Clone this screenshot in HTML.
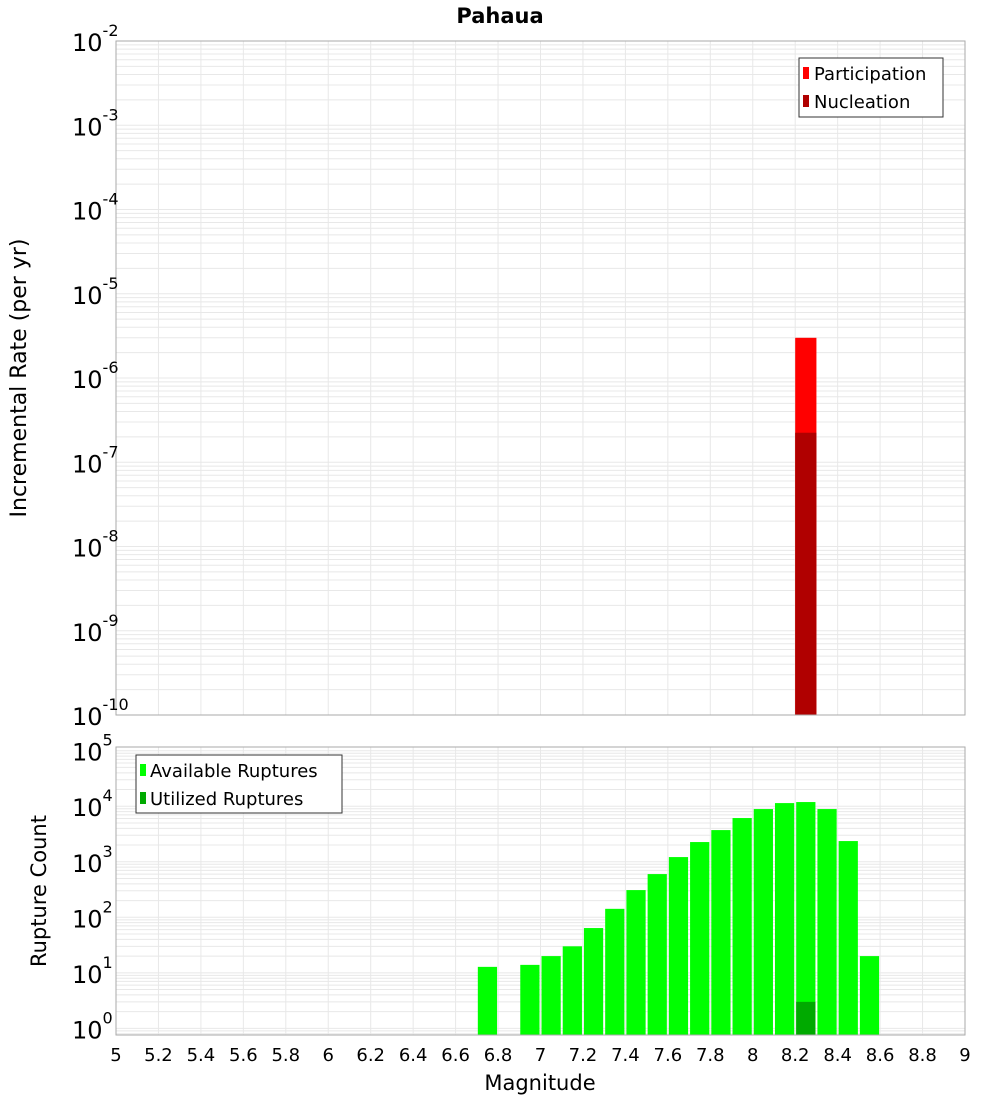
<!DOCTYPE html>
<html><head><meta charset="utf-8"><style>
body{margin:0;background:#fff;font-family:"DejaVu Sans","Liberation Sans",sans-serif}
svg{display:block}
</style></head><body>
<svg id="c" width="1000" height="1100" xmlns="http://www.w3.org/2000/svg" font-family="DejaVu Sans, Liberation Sans, sans-serif"></svg>
<script>
const magBins=[6.75,6.95,7.05,7.15,7.25,7.35,7.45,7.55,7.65,7.75,7.85,7.95,8.05,8.15,8.25,8.35,8.45,8.55];
const availableCounts=[12.8,13.9,20,30,64,142,309,600,1215,2265,3720,6130,8900,11400,11900,8900,2360,20];
const utilizedMags=[8.25];
const utilizedCounts=[3.0];
const rateMags=[8.25];
const participationRates=[3.0e-6];
const nucleationRates=[2.24e-7];
const xTicks=[5,5.2,5.4,5.6,5.8,6,6.2,6.4,6.6,6.8,7,7.2,7.4,7.6,7.8,8,8.2,8.4,8.6,8.8,9];
const topDecades=[-2,-3,-4,-5,-6,-7,-8,-9,-10];
const botDecades=[5,4,3,2,1,0];

const NS="http://www.w3.org/2000/svg";
const svg=document.getElementById('c');
function mk(t,a,p){const e=document.createElementNS(NS,t);for(const k in a)e.setAttribute(k,a[k]);(p||svg).appendChild(e);return e;}
const X0=116,X1=965;
const xs=m=>X0+(m-5)/(9-5)*(X1-X0);
const T0=41,T1=715;
const yTop=v=>T0+(-2-Math.log10(v))/8*(T1-T0);
const B0=747,B1=1035,BL0=5.067,BL1=-0.12;
const yBot=v=>{let l=Math.log10(v);return B0+(BL0-l)/(BL0-BL1)*(B1-B0);};

function grid(g,y0,y1,lmin,lmax,yf){
  for(let d=Math.floor(lmin);d<=Math.ceil(lmax);d++){
    for(let k=1;k<10;k++){const v=k*Math.pow(10,d);const l=Math.log10(v);if(l<lmin||l>lmax)continue;
      const y=yf(v);const gl=mk('line',{x1:X0,x2:X1,y1:y,y2:y,stroke:'#e8e8e8','stroke-width':1},g);
      
      }
  }
  xTicks.forEach(t=>{const x=xs(t);const vl=mk('line',{x1:x,x2:x,y1:y0,y2:y1,stroke:'#e8e8e8','stroke-width':1},g);
    
    });
}
mk('text',{x:500,y:23,'text-anchor':'middle','font-size':21,'font-weight':'bold',}).textContent='Pahaua';

const gt=mk('g',{});
grid(gt,T0,T1,-10,-2,yTop);
const bw=(X1-X0)/40;
rateMags.forEach((m,i)=>{
  const r1=mk('rect',{x:xs(m)-bw/2,y:yTop(participationRates[i]),width:bw,height:T1-yTop(participationRates[i]),fill:'#ff0000'},gt);
  
  
  const r2=mk('rect',{x:xs(m)-bw/2,y:yTop(nucleationRates[i]),width:bw,height:T1-yTop(nucleationRates[i]),fill:'#b00000'},gt);
  
  
});
mk('rect',{x:X0,y:T0,width:X1-X0,height:T1-T0,fill:'none',stroke:'#aaa','stroke-width':1,},gt);
topDecades.forEach(d=>{const y=yTop(Math.pow(10,d));
  const t=mk('text',{x:72,y:y+10,'font-size':24},gt);
  
  
  t.innerHTML='10<tspan dy="-15" font-size="16">'+d+'</tspan>';});
mk('text',{x:0,y:0,transform:'translate(26,378) rotate(-90)','text-anchor':'middle','font-size':22,},gt).textContent='Incremental Rate (per yr)';
const lg=mk('g',{});
mk('rect',{x:799,y:58,width:144,height:59,fill:'#fff',stroke:'#333','stroke-width':1},lg);
mk('rect',{x:803,y:67,width:6,height:12,fill:'#ff0000'},lg);
mk('text',{x:814,y:80,'font-size':18,},lg).textContent='Participation';
mk('rect',{x:803,y:95,width:6,height:12,fill:'#b00000'},lg);
mk('text',{x:814,y:108,'font-size':18,},lg).textContent='Nucleation';

const gb=mk('g',{});
grid(gb,B0,B1,BL1,BL0,yBot);
magBins.forEach((m,i)=>{const y=yBot(availableCounts[i]);
  const r=mk('rect',{x:xs(m)-bw/2+1,y:y,width:bw-2,height:B1-y,fill:'#00ff00'},gb);
  
  });
utilizedMags.forEach((m,i)=>{const y=yBot(utilizedCounts[i]);
  const r=mk('rect',{x:xs(m)-bw/2+1,y:y,width:bw-2,height:B1-y,fill:'#00aa00'},gb);
  
  });
mk('rect',{x:X0,y:B0,width:X1-X0,height:B1-B0,fill:'none',stroke:'#aaa','stroke-width':1,},gb);
botDecades.forEach(d=>{const y=yBot(Math.pow(10,d));
  const t=mk('text',{x:72,y:y+10,'font-size':24},gb);
  
  
  t.innerHTML='10<tspan dy="-15" font-size="16">'+d+'</tspan>';});
xTicks.forEach(t=>{const e=mk('text',{x:xs(t),y:1061,'text-anchor':'middle','font-size':18},gb);
  
  
  e.textContent=String(t);});
mk('text',{x:540,y:1090,'text-anchor':'middle','font-size':21,},gb).textContent='Magnitude';
mk('text',{x:0,y:0,transform:'translate(46,891) rotate(-90)','text-anchor':'middle','font-size':21,},gb).textContent='Rupture Count';
const lb=mk('g',{});
mk('rect',{x:136,y:755,width:206,height:58,fill:'#fff',stroke:'#333','stroke-width':1},lb);
mk('rect',{x:140,y:764,width:6,height:12,fill:'#00ff00'},lb);
mk('text',{x:150,y:777,'font-size':18,},lb).textContent='Available Ruptures';
mk('rect',{x:140,y:792,width:6,height:12,fill:'#00aa00'},lb);
mk('text',{x:150,y:805,'font-size':18,},lb).textContent='Utilized Ruptures';
</script>
</body></html>
